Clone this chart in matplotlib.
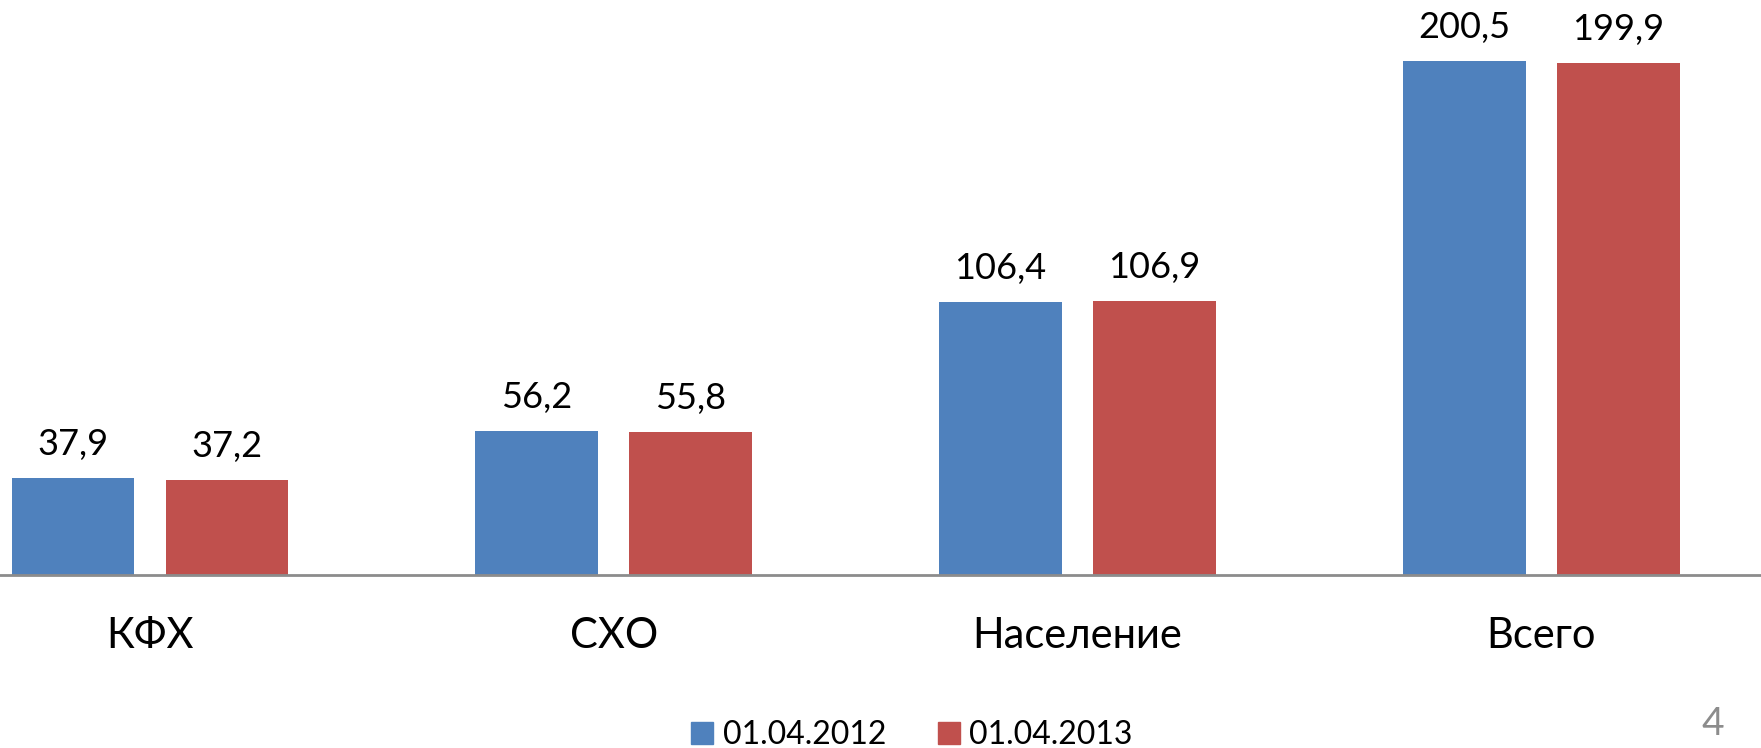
import matplotlib
matplotlib.use("Agg")
import matplotlib.pyplot as plt
from matplotlib.patches import Patch
import numpy as np

categories = ["КФХ", "СХО", "Население", "Всего"]
series_names = ["01.04.2012", "01.04.2013"]
values_2012 = [37.9, 56.2, 106.4, 200.5]
values_2013 = [37.2, 55.8, 106.9, 199.9]

blue = "#4F81BD"
red = "#C0504D"

plt.rcParams['font.family'] = ['Lato', 'DejaVu Sans']

fig = plt.figure(figsize=(17.61, 7.48), dpi=100)
ax = fig.add_axes([0, 173 / 748, 1, 575 / 748])

x = np.arange(len(categories))
width = 0.265
offset = 0.166

bars1 = ax.bar(x - offset, values_2012, width, color=blue, linewidth=0)
bars2 = ax.bar(x + offset, values_2013, width, color=red, linewidth=0)

for bars, vals in [(bars1, values_2012), (bars2, values_2013)]:
    for b, v in zip(bars, vals):
        ax.annotate(f"{v:.1f}".replace(".", ","),
                    (b.get_x() + b.get_width() / 2, b.get_height()),
                    xytext=(0, 24), textcoords="offset points",
                    ha="center", va="center", fontsize=26, color="black")

ax.set_xlim(-0.3235, 3.474)
ax.set_ylim(0, 224.3)

for side in ["top", "right", "left"]:
    ax.spines[side].set_visible(False)
ax.spines["bottom"].set_color("#8C8C8C")
ax.spines["bottom"].set_linewidth(2)
ax.set_yticks([])
ax.set_xticks(x)
ax.set_xticklabels(categories, fontsize=30)
ax.tick_params(axis="x", length=0, pad=44)
for lbl in ax.get_xticklabels():
    lbl.set_va("center")

handles = [Patch(color=blue), Patch(color=red)]
fig.legend(handles, series_names, loc="center", bbox_to_anchor=(912 / 1761, 1 - 735 / 748),
           ncol=2, frameon=False, fontsize=23, handlelength=0.7, handleheight=0.7,
           handletextpad=0.3, columnspacing=1.6)

fig.text(1713 / 1761, 1 - 724 / 748, "4", ha="center", va="center", fontsize=28, color="#8C8C8C")

fig.savefig("out.png", dpi=100)
